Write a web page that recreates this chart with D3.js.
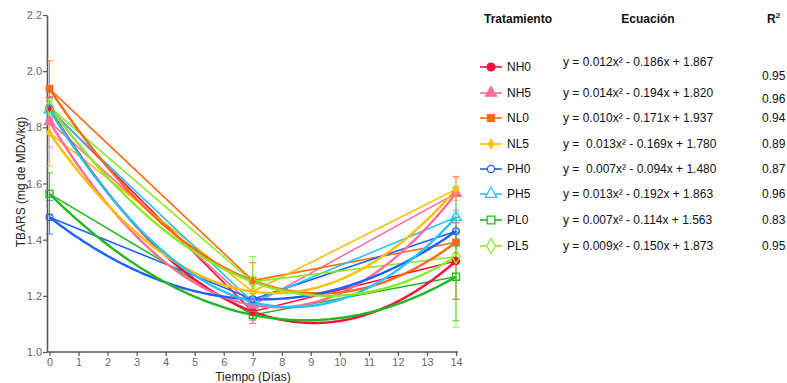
<!DOCTYPE html>
<html>
<head>
<meta charset="utf-8">
<script src="https://cdn.jsdelivr.net/npm/d3@7"></script>
<style>
  html, body { margin: 0; padding: 0; background: #fff; }
  svg { display: block; font-family: "Liberation Sans", Arial, sans-serif; }
</style>
</head>
<body>
<svg id="chart" width="787" height="383"></svg>
<script>
// Sampling days
const days = [0, 7, 14];

// Treatments shown in the legend
const treatments = ["NH0", "NH5", "NL0", "NL5", "PH0", "PH5", "PL0", "PL5"];

// Mean TBARS (mg MDA/kg) at days 0, 7, 14
const meanNH0 = [1.867, 1.144, 1.324];
const meanNH5 = [1.820, 1.167, 1.565];
const meanNL0 = [1.937, 1.254, 1.391];
const meanNL5 = [1.780, 1.215, 1.579];
const meanPH0 = [1.480, 1.188, 1.430];
const meanPH5 = [1.863, 1.178, 1.480];
const meanPL0 = [1.563, 1.132, 1.268];
const meanPL5 = [1.873, 1.250, 1.339];

// Standard deviations at days 0, 7, 14
const sdNH0 = [0.040, 0.030, 0.136];
const sdNH5 = [0.090, 0.030, 0.060];
const sdNL0 = [0.100, 0.064, 0.040];
const sdNL5 = [0.118, 0.050, 0.040];
const sdPH0 = [0.060, 0.030, 0.050];
const sdPH5 = [0.030, 0.030, 0.105];
const sdPL0 = [0.075, 0.030, 0.157];
const sdPL5 = [0.030, 0.090, 0.250];

// Regression equations and coefficients of determination
const equations = [
  "y = 0.012x\u00B2 - 0.186x + 1.867",
  "y = 0.014x\u00B2 - 0.194x + 1.820",
  "y = 0.010x\u00B2 - 0.171x + 1.937",
  "y =  0.013x\u00B2 - 0.169x + 1.780",
  "y =  0.007x\u00B2 - 0.094x + 1.480",
  "y = 0.013x\u00B2 - 0.192x + 1.863",
  "y = 0.007x\u00B2 - 0.114x + 1.563",
  "y = 0.009x\u00B2 - 0.150x + 1.873"
];
const r2Values = ["0.95", "0.96", "0.94", "0.89", "0.87", "0.96", "0.83", "0.95"];

// Axis ticks
const yTicks = [1.0, 1.2, 1.4, 1.6, 1.8, 2.0, 2.2];
const xTicks = [0, 1, 2, 3, 4, 5, 6, 7, 8, 9, 10, 11, 12, 13, 14];

// Styling per treatment
const colors = ["#ff0a3c", "#ff6b9d", "#ff6a10", "#ffbf00", "#1f60ff", "#24c3ff", "#22b822", "#8ee82a"];
const symbols = [d3.symbolCircle, d3.symbolTriangle, d3.symbolSquare, d3.symbolDiamond,
                 d3.symbolCircle, d3.symbolTriangle, d3.symbolSquare, d3.symbolDiamond];
const symbolSizes = [40, 45, 40, 22, 36, 50, 50, 55];
const filled = [true, true, true, true, false, false, false, false];

const means = [meanNH0, meanNH5, meanNL0, meanNL5, meanPH0, meanPH5, meanPL0, meanPL5];
const sds = [sdNH0, sdNH5, sdNL0, sdNL5, sdPH0, sdPH5, sdPL0, sdPL5];

const series = treatments.map((name, i) => ({
  name, i,
  points: days.map((d, k) => ({ day: d, value: means[i][k], sd: sds[i][k] }))
}));

const svg = d3.select("#chart");

const x = d3.scaleLinear().domain([0, 14]).range([49.5, 456]);
const y = d3.scaleLinear().domain([1.0, 2.2]).range([352, 15]);

// Axes
const axisColor = "#555";
const yAxis = svg.append("g")
  .attr("transform", "translate(47,0)")
  .call(d3.axisLeft(y).tickValues(yTicks).tickFormat(d3.format(".1f")).tickSize(4).tickSizeOuter(0));
const xAxis = svg.append("g")
  .attr("transform", "translate(0,352)")
  .call(d3.axisBottom(x).tickValues(xTicks).tickFormat(d3.format("d")).tickSize(4).tickSizeOuter(0));
xAxis.select(".domain").attr("d", "M47,0H458");

[yAxis, xAxis].forEach(g => {
  g.select(".domain").attr("stroke", axisColor).attr("stroke-width", 1.6);
  g.selectAll(".tick line").attr("stroke", axisColor).attr("stroke-width", 1.2);
  g.selectAll(".tick text").attr("fill", "#6a6a6a").style("font-size", "11px")
    .style("font-family", "'Liberation Sans', Arial, sans-serif");
});
yAxis.selectAll(".tick text").attr("x", -5);
xAxis.selectAll(".tick text").attr("y", 6);

// Axis titles
svg.append("text")
  .attr("transform", "translate(24.5,182) rotate(-90)")
  .attr("text-anchor", "middle")
  .style("font-size", "12px").attr("fill", "#222")
  .text("TBARS (mg de MDA/kg)");
svg.append("text")
  .attr("x", 253).attr("y", 381)
  .attr("text-anchor", "middle")
  .style("font-size", "12px").attr("fill", "#222")
  .text("Tiempo (Días)");

// Quadratic trend through the three means
function quadraticTrend(pts) {
  const [p0, p1, p2] = pts;
  const f = t =>
    p0.value * ((t - p1.day) * (t - p2.day)) / ((p0.day - p1.day) * (p0.day - p2.day)) +
    p1.value * ((t - p0.day) * (t - p2.day)) / ((p1.day - p0.day) * (p1.day - p2.day)) +
    p2.value * ((t - p0.day) * (t - p1.day)) / ((p2.day - p0.day) * (p2.day - p1.day));
  return d3.range(0, 14.001, 0.1).map(t => ({ day: t, value: f(t) }));
}

const plot = svg.append("g");

// Error bars
series.forEach(s => {
  const g = plot.append("g").attr("stroke", colors[s.i]).attr("stroke-width", 1).attr("opacity", 0.85);
  s.points.forEach(p => {
    const cx = x(p.day), top = y(p.value + p.sd), bot = y(p.value - p.sd);
    g.append("line").attr("x1", cx).attr("x2", cx).attr("y1", top).attr("y2", bot);
    g.append("line").attr("x1", cx - 3.5).attr("x2", cx + 3.5).attr("y1", top).attr("y2", top);
    g.append("line").attr("x1", cx - 3.5).attr("x2", cx + 3.5).attr("y1", bot).attr("y2", bot);
  });
});

const line = d3.line().x(d => x(d.day)).y(d => y(d.value));

// Straight segments between means
series.forEach(s => {
  plot.append("path").datum(s.points)
    .attr("d", line).attr("fill", "none")
    .attr("stroke", colors[s.i]).attr("stroke-width", 1.6);
});

// Fitted curves
series.forEach(s => {
  plot.append("path").datum(quadraticTrend(s.points))
    .attr("d", line).attr("fill", "none")
    .attr("stroke", colors[s.i]).attr("stroke-width", 2.4);
});

// Markers
series.forEach(s => {
  plot.selectAll(null).data(s.points).enter().append("path")
    .attr("transform", d => `translate(${x(d.day)},${y(d.value)})`)
    .attr("d", d3.symbol().type(symbols[s.i]).size(symbolSizes[s.i]))
    .attr("fill", filled[s.i] ? colors[s.i] : "#fff")
    .attr("fill-opacity", filled[s.i] ? 1 : 0)
    .attr("stroke", colors[s.i]).attr("stroke-width", 1.3);
});

// Legend table
const legend = svg.append("g").style("font-size", "12px");
legend.append("text").attr("x", 484).attr("y", 23).attr("font-weight", "bold").attr("fill", "#111").text("Tratamiento");
legend.append("text").attr("x", 648).attr("y", 23).attr("text-anchor", "middle").attr("font-weight", "bold").attr("fill", "#111").text("Ecuación");
const r2Head = legend.append("text").attr("x", 767).attr("y", 23).attr("font-weight", "bold").attr("fill", "#111");
r2Head.append("tspan").text("R");
r2Head.append("tspan").attr("dy", -5).style("font-size", "8px").text("2");

const rowLabelY = [67, 93, 118, 144, 169, 194, 220, 246];
const rowEqY = [62, 93, 118, 144, 169, 194, 220, 246];
const rowR2Y = [76, 99, 118, 144, 169, 194, 220, 246];

treatments.forEach((name, i) => {
  const cy = rowLabelY[i];
  legend.append("line").attr("x1", 480).attr("x2", 502).attr("y1", cy).attr("y2", cy)
    .attr("stroke", colors[i]).attr("stroke-width", 1.6);
  legend.append("path")
    .attr("transform", `translate(491,${cy})`)
    .attr("d", d3.symbol().type(symbols[i]).size(symbolSizes[i] * 1.2))
    .attr("fill", filled[i] ? colors[i] : "#fff")
    .attr("stroke", colors[i]).attr("stroke-width", 1.3);
  legend.append("text").attr("x", 507).attr("y", cy + 4).attr("fill", "#111").text(name);
  legend.append("text").attr("x", 563).attr("y", rowEqY[i] + 4).attr("fill", "#111")
    .style("white-space", "pre").text(equations[i]);
  legend.append("text").attr("x", 762).attr("y", rowR2Y[i] + 4).attr("fill", "#111").text(r2Values[i]);
});
</script>
</body>
</html>
